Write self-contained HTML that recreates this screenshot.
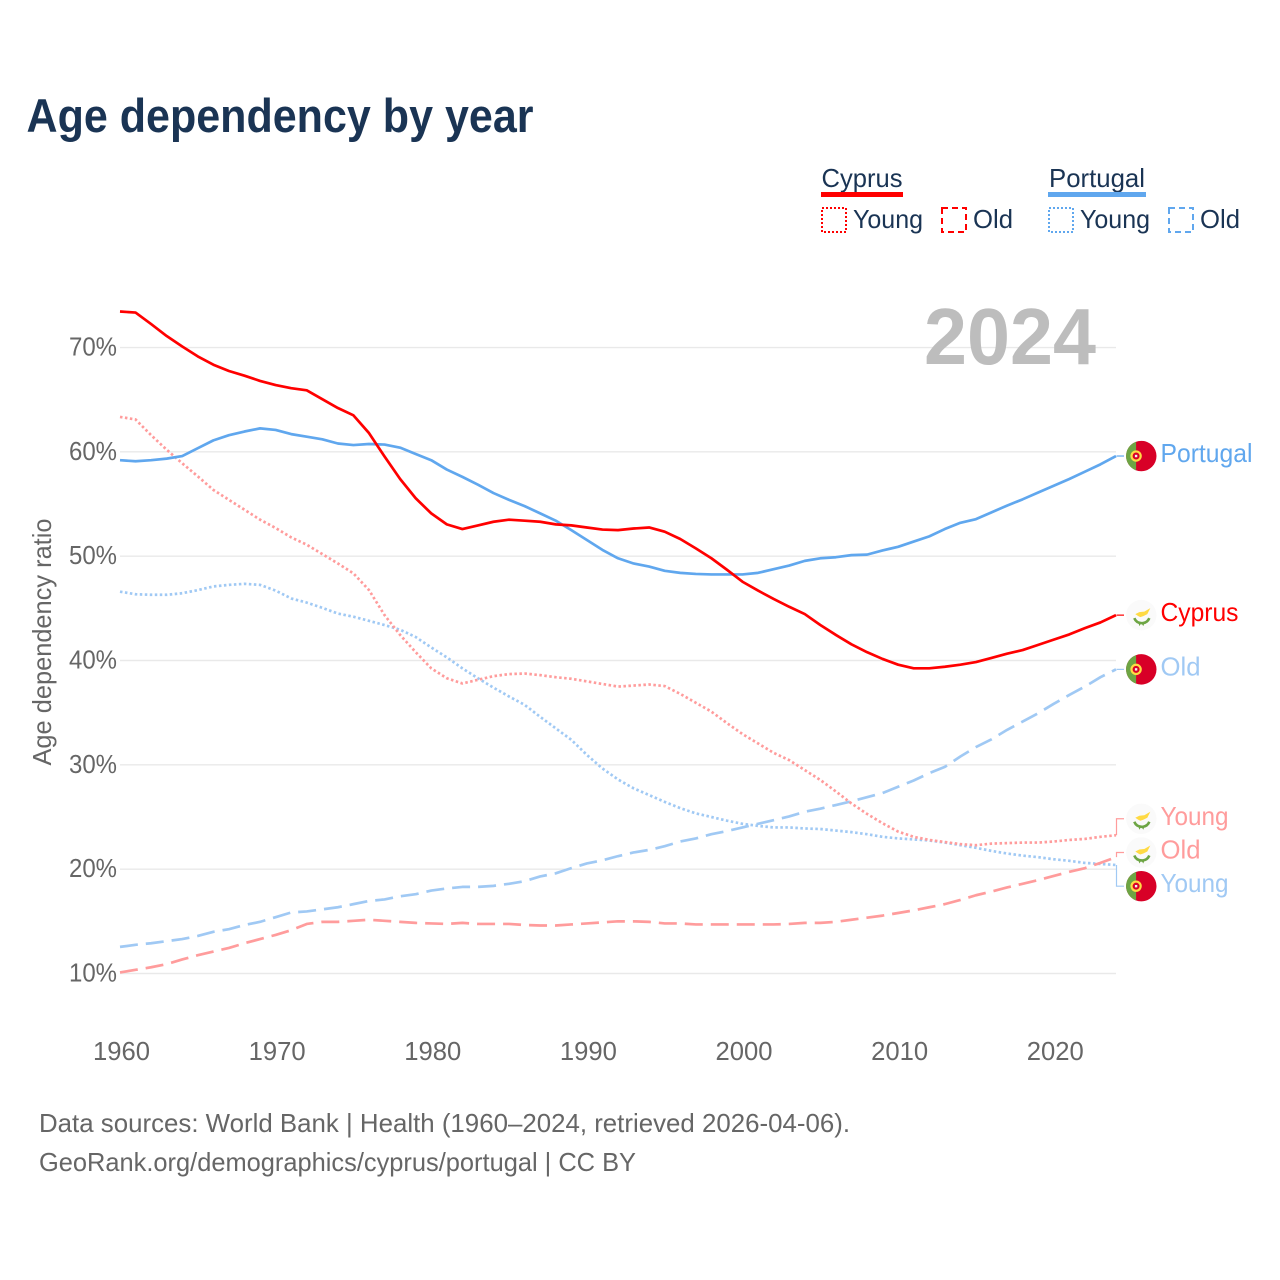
<!DOCTYPE html>
<html lang="en">
<head>
<meta charset="utf-8">
<title>Age dependency by year</title>
<style>
html,body{margin:0;padding:0;background:#fff;}
svg{display:block;}
text{font-family:"Liberation Sans",sans-serif;}
</style>
</head>
<body>
<svg id="chart" xmlns="http://www.w3.org/2000/svg" width="1280" height="1280" viewBox="0 0 1280 1280">
  <rect x="0" y="0" width="1280" height="1280" fill="#fff"/>
  <text x="26.5" y="132" font-size="47" font-weight="700" fill="#1a3454" textLength="507" lengthAdjust="spacingAndGlyphs">Age dependency by year</text>

  <g font-size="26" fill="#1a3454">
    <text x="821.5" y="187" textLength="81" lengthAdjust="spacingAndGlyphs">Cyprus</text>
    <rect x="821" y="192" width="82" height="5" fill="#ff0000"/>
    <rect x="822" y="208" width="24" height="24" fill="none" stroke="#ff0000" stroke-width="2" stroke-dasharray="2 2"/>
    <text x="853" y="228" textLength="70" lengthAdjust="spacingAndGlyphs">Young</text>
    <rect x="942" y="208" width="24" height="24" fill="none" stroke="#ff0000" stroke-width="2" stroke-dasharray="6 4"/>
    <text x="973" y="228" textLength="40" lengthAdjust="spacingAndGlyphs">Old</text>
    <text x="1049" y="187" textLength="96" lengthAdjust="spacingAndGlyphs">Portugal</text>
    <rect x="1048" y="192" width="98" height="5" fill="#60a7ee"/>
    <rect x="1049" y="208" width="24" height="24" fill="none" stroke="#60a7ee" stroke-width="2" stroke-dasharray="2 2"/>
    <text x="1080" y="228" textLength="70" lengthAdjust="spacingAndGlyphs">Young</text>
    <rect x="1169" y="208" width="24" height="24" fill="none" stroke="#60a7ee" stroke-width="2" stroke-dasharray="6 4"/>
    <text x="1200" y="228" textLength="40" lengthAdjust="spacingAndGlyphs">Old</text>
  </g>

  <g id="grid"></g>
  <g id="yticks"></g>
  <g id="xticks"></g>
  <text transform="translate(51,642) rotate(-90)" text-anchor="middle" font-size="26" fill="#666" textLength="247" lengthAdjust="spacingAndGlyphs">Age dependency ratio</text>
  <text x="924" y="364" font-size="80" font-weight="700" fill="#bdbdbd" textLength="172" lengthAdjust="spacingAndGlyphs">2024</text>

  <g id="series"></g>
  <g id="ends"></g>

  <g font-size="26" fill="#666">
    <text x="39" y="1132" textLength="811" lengthAdjust="spacingAndGlyphs">Data sources: World Bank | Health (1960–2024, retrieved 2026-04-06).</text>
    <text x="39" y="1171" textLength="597" lengthAdjust="spacingAndGlyphs">GeoRank.org/demographics/cyprus/portugal | CC BY</text>
  </g>
</svg>
<script>
const firstYear = 1960;
const xTickLabels = [1960, 1970, 1980, 1990, 2000, 2010, 2020];
const yTickLabels = [10, 20, 30, 40, 50, 60, 70];
const cyprusTotal = [
  73.45,73.35,72.25,71.1,70.1,69.15,68.35,67.75,67.3,66.8,
  66.4,66.1,65.9,65.05,64.2,63.5,61.8,59.55,57.4,55.55,
  54.1,53.05,52.6,52.95,53.3,53.5,53.4,53.3,53.05,52.95,
  52.75,52.55,52.5,52.65,52.75,52.35,51.65,50.75,49.8,48.7,
  47.55,46.7,45.9,45.15,44.45,43.4,42.45,41.55,40.8,40.15,
  39.6,39.25,39.25,39.4,39.6,39.85,40.25,40.65,41.0,41.5,
  42,42.5,43.1,43.65,44.35];
const portugalTotal = [
  59.2,59.1,59.2,59.35,59.6,60.35,61.1,61.6,61.95,62.25,
  62.1,61.7,61.45,61.2,60.8,60.65,60.75,60.7,60.4,59.8,
  59.2,58.3,57.6,56.85,56.05,55.4,54.8,54.1,53.4,52.5,
  51.55,50.6,49.8,49.3,49.0,48.6,48.4,48.3,48.25,48.25,
  48.25,48.4,48.75,49.1,49.55,49.8,49.9,50.1,50.15,50.55,
  50.9,51.4,51.9,52.6,53.2,53.55,54.2,54.85,55.45,56.1,
  56.75,57.4,58.1,58.8,59.6];
const cyprusYoung = [
  63.35,63.1,61.6,60.2,58.9,57.65,56.35,55.4,54.45,53.5,
  52.7,51.8,51.1,50.2,49.3,48.35,46.75,44.35,42.45,40.8,
  39.25,38.3,37.8,38.15,38.5,38.7,38.75,38.6,38.4,38.25,
  38.0,37.75,37.5,37.6,37.7,37.55,36.8,35.95,35.1,34.0,
  32.95,32.05,31.15,30.45,29.5,28.55,27.45,26.3,25.3,24.4,
  23.6,23.1,22.8,22.6,22.4,22.3,22.45,22.5,22.55,22.55,
  22.65,22.8,22.9,23.1,23.25];
const cyprusOld = [
  10.1,10.35,10.6,10.9,11.35,11.75,12.1,12.45,12.9,13.3,
  13.7,14.15,14.75,14.95,14.95,15.05,15.15,15.05,14.95,14.85,
  14.8,14.75,14.85,14.75,14.75,14.75,14.65,14.6,14.6,14.7,
  14.8,14.9,15.0,15.0,14.95,14.8,14.8,14.7,14.7,14.7,
  14.7,14.7,14.7,14.75,14.85,14.85,14.95,15.15,15.35,15.55,
  15.8,16.05,16.35,16.65,17.05,17.5,17.85,18.25,18.6,18.95,
  19.35,19.75,20.1,20.6,21.15];
const portugalYoung = [
  46.6,46.35,46.3,46.3,46.45,46.75,47.1,47.25,47.35,47.25,
  46.7,45.95,45.55,45.05,44.5,44.2,43.8,43.4,42.95,42.25,
  41.25,40.3,39.25,38.3,37.4,36.55,35.75,34.6,33.5,32.4,
  30.95,29.65,28.6,27.75,27.1,26.45,25.85,25.35,25.0,24.65,
  24.35,24.15,24.0,24.0,23.9,23.85,23.7,23.55,23.35,23.1,
  22.95,22.85,22.75,22.55,22.3,22.05,21.75,21.5,21.3,21.15,
  20.95,20.8,20.6,20.5,20.4];
const portugalOld = [
  12.55,12.75,12.9,13.1,13.3,13.6,14.0,14.25,14.65,14.95,
  15.4,15.85,15.95,16.15,16.35,16.65,16.95,17.1,17.4,17.6,
  17.95,18.15,18.3,18.3,18.4,18.6,18.85,19.3,19.6,20.1,
  20.55,20.85,21.25,21.6,21.85,22.2,22.65,22.95,23.35,23.65,
  24.0,24.35,24.7,25.05,25.5,25.8,26.15,26.5,26.9,27.3,
  27.9,28.5,29.2,29.8,30.8,31.7,32.45,33.35,34.15,34.95,
  35.85,36.7,37.5,38.4,39.15];

const NS = 'http://www.w3.org/2000/svg';
const xScale = function (year) { return 120 + (year - firstYear) * 15.5625; };
const yScale = function (v) { return 973.5 - (v - 10) * 10.433; };

function make(tag, parent, attrs, txt) {
  const el = document.createElementNS(NS, tag);
  for (const k in attrs) el.setAttribute(k, attrs[k]);
  if (txt !== undefined) el.textContent = txt;
  parent.appendChild(el);
  return el;
}

const gridG = document.getElementById('grid');
const yG = document.getElementById('yticks');
yTickLabels.forEach(function (v) {
  const line = make('line', gridG, { x1: 120, x2: 1116, y1: yScale(v), y2: yScale(v), stroke: '#e9e9e9', 'stroke-width': 1.4 });
  
  
  const t = make('text', yG, { x: 117, y: yScale(v) + 8, 'text-anchor': 'end', 'font-size': 26, fill: '#666', textLength: 48, lengthAdjust: 'spacingAndGlyphs' }, v + '%');
  
  
});

const xG = document.getElementById('xticks');
xTickLabels.forEach(function (yr) {
  const t = make('text', xG, { x: xScale(yr) + 1.5, y: 1060, 'text-anchor': 'middle', 'font-size': 26, fill: '#666', textLength: 57, lengthAdjust: 'spacingAndGlyphs' }, String(yr));
  
  
});

const seriesList = [
  { id: 'portugal-old', label: 'Old', flag: 'pt', values: portugalOld, color: '#a0c9f4', dash: '18 8', width: 40 },
  { id: 'portugal-young', label: 'Young', flag: 'pt', values: portugalYoung, color: '#a0c9f4', dash: '2.5 2.5', width: 68 },
  { id: 'cyprus-old', label: 'Old', flag: 'cy', values: cyprusOld, color: '#ff9c9c', dash: '18 8', width: 40 },
  { id: 'cyprus-young', label: 'Young', flag: 'cy', values: cyprusYoung, color: '#ff9c9c', dash: '2.5 2.5', width: 68 },
  { id: 'portugal-total', label: 'Portugal', flag: 'pt', values: portugalTotal, color: '#60a7ee', dash: '', width: 92 },
  { id: 'cyprus-total', label: 'Cyprus', flag: 'cy', values: cyprusTotal, color: '#ff0000', dash: '', width: 78 }
];

const seriesG = document.getElementById('series');
seriesList.forEach(function (s) {
  const pts = s.values.map(function (v, i) { return xScale(firstYear + i).toFixed(2) + ',' + yScale(v).toFixed(2); }).join(' ');
  const attrs = { points: pts, fill: 'none', stroke: s.color, 'stroke-width': 2.7, 'stroke-linejoin': 'round' };
  if (s.dash) attrs['stroke-dasharray'] = s.dash;
  const line = make('polyline', seriesG, attrs);
  
  
});

/* End labels: dodge overlapping end values around their cluster centre */
const minGap = 33.7;
const ends = seriesList.map(function (s) {
  const last = yScale(s.values[s.values.length - 1]);
  return { s: s, lineY: last, y: last };
}).sort(function (a, b) { return a.lineY - b.lineY; });
const clusters = [];
ends.forEach(function (e) {
  const c = clusters[clusters.length - 1];
  if (c && e.lineY - c[c.length - 1].lineY < minGap) c.push(e); else clusters.push([e]);
});
clusters.forEach(function (c) {
  const mean = c.reduce(function (a, e) { return a + e.lineY; }, 0) / c.length;
  c.forEach(function (e, i) { e.y = mean + (i - (c.length - 1) / 2) * minGap; });
});

function drawFlag(parent, kind, cx, cy) {
  const g = make('g', parent, { transform: 'translate(' + cx + ',' + cy + ')' });
  
  
  if (kind === 'pt') {
    make('circle', g, { r: 15.2, fill: '#d80027' });
    make('path', g, { d: 'M-5.2,-14.3 A15.2,15.2 0 0 0 -5.2,14.3 Z', fill: '#6da544' });
    make('circle', g, { cx: -5.2, r: 4.6, fill: '#d80027', stroke: '#ffda44', 'stroke-width': 2.2 });
    make('rect', g, { x: -6.4, y: -1.2, width: 2.4, height: 2.4, fill: '#f0f0f0' });
  } else {
    make('circle', g, { r: 15.2, fill: '#fafafa' });
    make('path', g, { d: 'M-6,-1 L-2,-3 L3,-3.5 L9,-7 L6,-1 L2,1 L-1,2 L-3,1 Z', fill: '#ffda44' });
    make('path', g, { d: 'M-7,3 Q-5,8 0.5,8 Q6,8 8,3', fill: 'none', stroke: '#6da544', 'stroke-width': 2.6 });
    make('path', g, { d: 'M-3,7 L-2,11 L0,8 L2,11 L3.5,7 Z', fill: '#6da544' });
  }
}

const endG = document.getElementById('ends');
ends.forEach(function (e) {
  const path = make('path', endG, {
    d: 'M1116.5,' + e.lineY.toFixed(2) + ' V' + e.y.toFixed(2) + ' H1124',
    fill: 'none', stroke: e.s.color, 'stroke-width': 1.2
  });
  
  
  drawFlag(endG, e.s.flag, 1141.3, e.y);
  const t = make('text', endG, { x: 1160.5, y: e.y + 6, 'font-size': 26, fill: e.s.color, textLength: e.s.width, lengthAdjust: 'spacingAndGlyphs' }, e.s.label);
  
  
});
</script>
</body>
</html>
